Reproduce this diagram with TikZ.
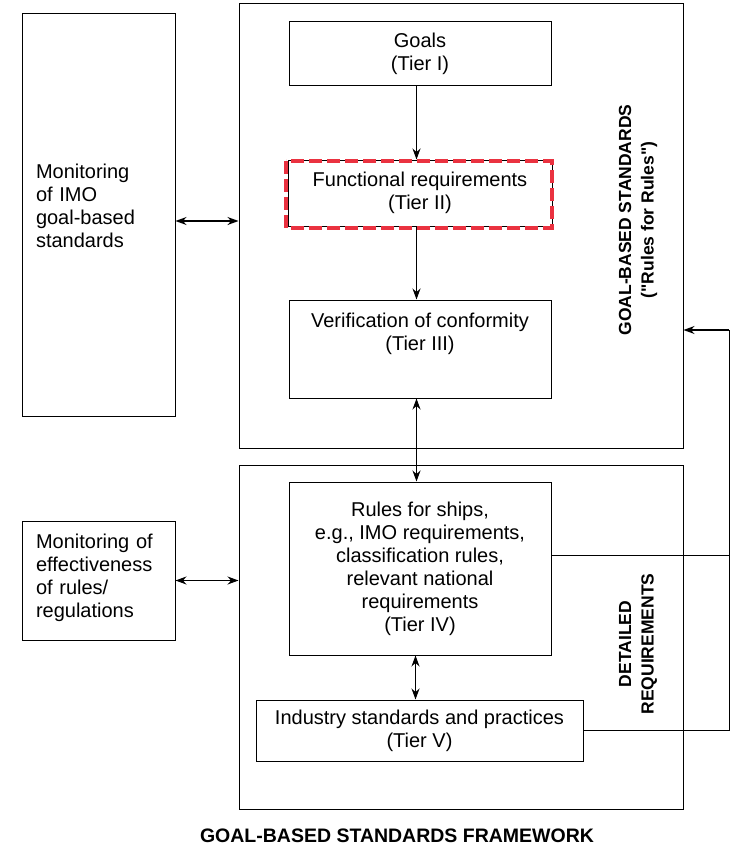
\documentclass[tikz,border=0pt]{standalone}
\usepackage{fontspec}
\setmainfont{Liberation Sans}
\usepackage{xcolor}
\usetikzlibrary{arrows.meta,positioning}
\definecolor{funcred}{RGB}{234,50,64}

\begin{document}
\begin{tikzpicture}[x=1pt, y=-1pt, >={Stealth[length=11pt,width=8pt]},
  every node/.style={font=\fontsize{20}{23}\selectfont},
  tierbox/.style={draw, line width=1pt, align=center, inner sep=0pt},
  outerbox/.style={draw, line width=1pt, minimum width=444pt, inner sep=0pt},
  sidebox/.style={draw, line width=1pt, minimum width=153pt, inner sep=0pt},
  sidetext/.style={text width=125pt, align=left, inner sep=0pt},
  sidelabel/.style={rotate=90, align=center, font=\fontsize{17.5}{22.5}\selectfont\bfseries},
  link/.style={line width=1.1pt}]
  \useasboundingbox (0,0) rectangle (732,848);

  \node[outerbox, minimum height=444pt] (gbs) at (461,226) {};
  \node[outerbox, minimum height=344pt] (detail) at (461,637) {};

  \node[tierbox, minimum width=262pt, minimum height=64pt] (goals) at (420,54) {Goals\\(Tier I)};
  \node[tierbox, minimum width=264pt, minimum height=66pt] (func) at (420,193) {Functional requirements\\(Tier II)};
  \draw[funcred, line width=3.5pt, dash pattern=on 13pt off 5pt]
    ([shift={(-1.5pt,-1.5pt)}]func.north west) rectangle ([shift={(-0.5pt,-1.5pt)}]func.south east);
  \node[tierbox, minimum width=262pt, minimum height=98pt] (verif) at (420,349) {};
  \node[align=center, below=10pt of verif.north] (veriftext) {Verification of conformity\\(Tier III)};

  \node[tierbox, minimum width=262pt, minimum height=173pt] (rules) at (420,568.5) {Rules for ships,\\e.g., IMO requirements,\\classification rules,\\relevant national\\requirements\\(Tier IV)};
  \node[tierbox, minimum width=327pt, minimum height=61pt] (industry) at (419.5,730.5) {Industry standards and practices\\(Tier V)};

  \node[sidebox, minimum height=402pt] (montop) at (98.5,215) {};
  \node[sidetext, yshift=9pt] (montoptext) at (montop) {Monitoring\\of IMO\\goal-based\\standards};
  \node[sidebox, minimum height=119pt] (monbot) at (98.5,580.5) {};
  \node[sidetext, yshift=3pt] (monbottext) at (monbot) {Monitoring of\\effectiveness\\of rules/\\regulations};

  \node[sidelabel] (gbslabel) at (638,220) {GOAL-BASED STANDARDS\\(\textquotedbl Rules for Rules\textquotedbl)};
  \node[sidelabel] (detlabel) at (638,644) {DETAILED\\REQUIREMENTS};
  \node[font=\fontsize{19.5}{23}\selectfont\bfseries] (title) at (397,836) {GOAL-BASED STANDARDS FRAMEWORK};

  \draw[->, link] ([xshift=-3.5pt]goals.south) -- ([xshift=-3.5pt]func.north);
  \draw[->, link] ([xshift=-3.5pt]func.south) -- ([xshift=-3.5pt]verif.north);
  \draw[<->, link] ([xshift=-3.5pt]verif.south) -- ([xshift=-3.5pt]rules.north);
  \draw[<->, link] ([xshift=-4.5pt]rules.south) -- ([xshift=-4.5pt]rules.south |- industry.north);
  \draw[<->, link] ([yshift=-6pt]montop.east) -- ([yshift=-6pt]montop.east -| gbs.west);
  \draw[<->, link] (monbot.east) -- (monbot.east -| detail.west);

  \coordinate (fb) at (729,330);
  \draw[line width=1pt] (rules.east |- 0,555) -- (fb |- 0,555);
  \draw[line width=1pt] (industry.east) -- (industry.east -| fb) -- (fb);
  \draw[->, link] (fb) -- (fb -| gbs.east);
\end{tikzpicture}
\end{document}
